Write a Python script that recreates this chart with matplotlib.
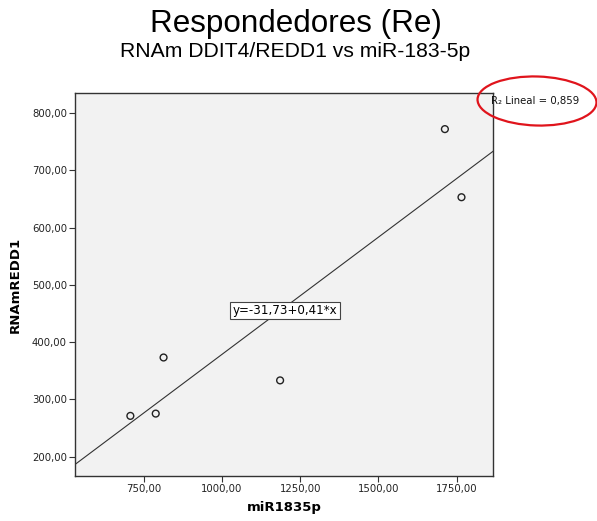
import matplotlib.pyplot as plt
from matplotlib.patches import Ellipse
import numpy as np

# miR-183-5p vs RNAm DDIT4/REDD1 (responders)
mir = [708, 789, 814, 1186, 1712, 1765]
redd1 = [271, 275, 373, 333, 772, 653]

# linear fit as reported
intercept = -31.73
slope = 0.41
r2 = 0.859

xticks = [750, 1000, 1250, 1500, 1750]
yticks = [200, 300, 400, 500, 600, 700, 800]


def fmt(v):
    return f'{v:.2f}'.replace('.', ',')


fig = plt.figure(figsize=(5.97, 5.21), dpi=100)
ax = fig.add_axes([0.126, 0.0864, 0.700, 0.735])
ax.set_facecolor('#f2f2f2')

xmin, xmax = 532, 1866
ax.set_xlim(xmin, xmax)
ax.set_ylim(166, 835)

xs = np.array([xmin, xmax])
ax.plot(xs, intercept + slope * xs, color='#333333', lw=0.8)
ax.scatter(mir, redd1, s=24, facecolors='none', edgecolors='#222222', linewidths=1.0, zorder=3)

ax.set_xticks(xticks)
ax.set_xticklabels([fmt(v) for v in xticks])
ax.set_yticks(yticks)
ax.set_yticklabels([fmt(v) for v in yticks])
ax.tick_params(axis='both', labelsize=7.3, length=4, width=0.8, color='#333333', labelcolor='#222222', pad=2)
for s in ax.spines.values():
    s.set_color('#333333')
    s.set_linewidth(1.0)

ax.set_xlabel('miR1835p', fontsize=9.5, fontweight='bold', labelpad=5)
ax.set_ylabel('RNAmREDD1', fontsize=9.5, fontweight='bold', labelpad=7)

ax.text(1202, 455, 'y=-31,73+0,41*x', fontsize=8.6, ha='center', va='center',
        bbox=dict(boxstyle='square,pad=0.2', fc='white', ec='#444444', lw=0.8))

fig.text(0.496, 1 - 32 / 521, 'Respondedores (Re)', family='Liberation Sans', fontsize=22.6,
         ha='center', va='baseline')
fig.text(0.494, 1 - 57 / 521, 'RNAm DDIT4/REDD1 vs miR-183-5p', family='Liberation Sans', fontsize=15.2,
         ha='center', va='baseline')

fig.text(0.822, 1 - 104 / 521, 'R₂ Lineal = ' + f'{r2:.3f}'.replace('.', ','), fontsize=7.3,
         ha='left', va='baseline', color='#111111')

ring = Ellipse((537 / 597, 1 - 101 / 521), 119 / 597, 49 / 521, angle=-2,
               transform=fig.transFigure, fill=False, ec='#e0141c', lw=1.6)
fig.add_artist(ring)

fig.savefig('out.png', dpi=100)
